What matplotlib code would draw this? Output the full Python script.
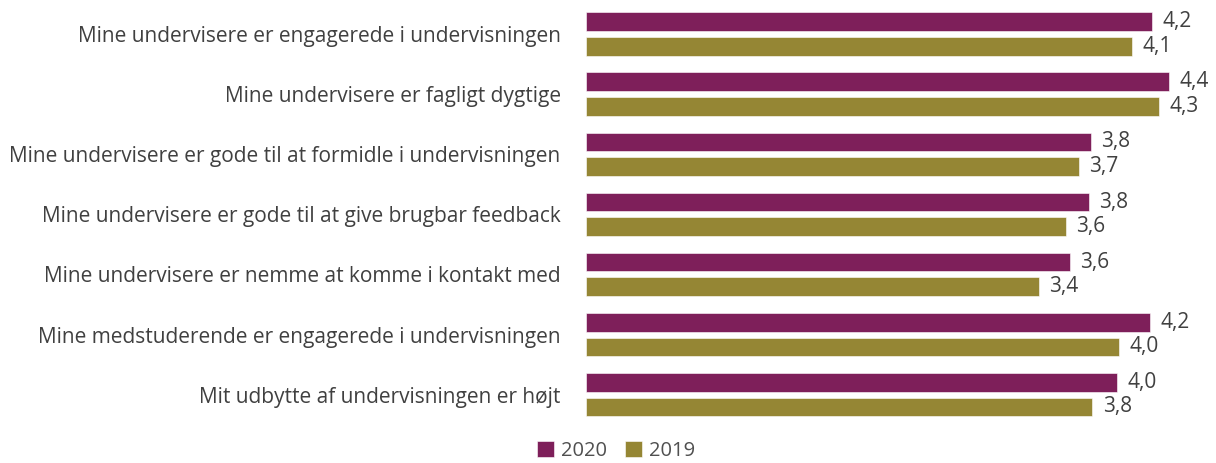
import matplotlib
matplotlib.use("Agg")
import matplotlib.pyplot as plt
import numpy as np

categories = [
    "Mine undervisere er engagerede i undervisningen",
    "Mine undervisere er fagligt dygtige",
    "Mine undervisere er gode til at formidle i undervisningen",
    "Mine undervisere er gode til at give brugbar feedback",
    "Mine undervisere er nemme at komme i kontakt med",
    "Mine medstuderende er engagerede i undervisningen",
    "Mit udbytte af undervisningen er højt",
]
values_2020 = [4.246, 4.373, 3.788, 3.773, 3.631, 4.231, 3.986]
values_2019 = [4.10, 4.303, 3.701, 3.601, 3.401, 4.00, 3.80]
series_names = ["2020", "2019"]
colors = ["#7E1F5A", "#958634"]

plt.rcParams['font.family'] = ['Open Sans', 'DejaVu Sans']
W, H = 1216, 463
fig = plt.figure(figsize=(W / 100, H / 100), dpi=100)
x0 = 585.7
ax = fig.add_axes([x0 / W, 0.0827, (W - x0) / W, 0.9088])

y = np.arange(len(categories))
off = 0.205
bh = 0.311
b1 = ax.barh(y - off, values_2020, height=bh, color=colors[0], label=series_names[0],
             edgecolor="white", linewidth=0.4)
b2 = ax.barh(y + off, values_2019, height=bh, color=colors[1], label=series_names[1],
             edgecolor="white", linewidth=0.4)

txtc = "#404040"
for bars, vals in ((b1, values_2020), (b2, values_2019)):
    for rect, v in zip(bars, vals):
        ax.annotate(f"{v:.1f}".replace(".", ","),
                    xy=(rect.get_width(), rect.get_y() + rect.get_height() / 2),
                    xytext=(7.5, 0), textcoords="offset points",
                    ha="left", va="center", fontsize=15, color=txtc)

ax.set_xlim(0, (W - x0) / 133.3)
ax.set_ylim(len(categories) - 0.5, -0.5)
ax.set_yticks(y)
ax.set_yticklabels(categories, fontsize=15, color=txtc)
ax.tick_params(axis="y", length=0, pad=18)
ax.set_xticks([])
for s in ax.spines.values():
    s.set_visible(False)

fig.legend(handles=[b1, b2], labels=series_names, loc="center",
           bbox_to_anchor=(616 / W, 0.026), ncol=2, frameon=False,
           fontsize=14.5, handlelength=0.85, handleheight=0.85,
           handletextpad=0.35, columnspacing=0.9, labelcolor="#505050",
           borderpad=0, borderaxespad=0)

fig.savefig("out.png", dpi=100)
